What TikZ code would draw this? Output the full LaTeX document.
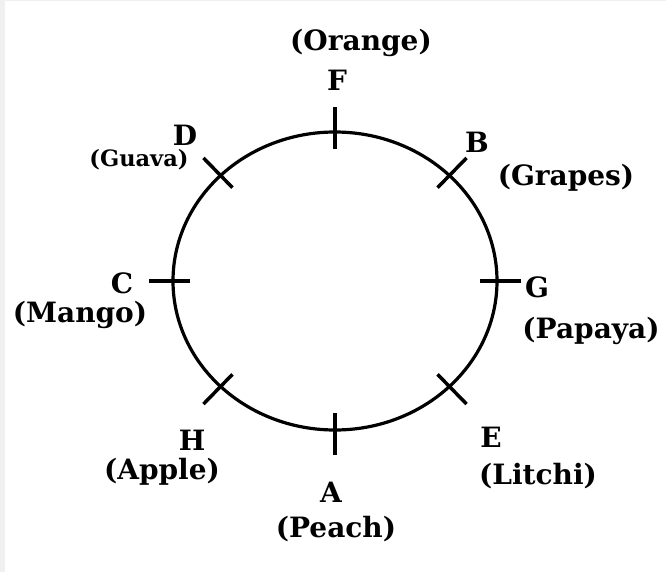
\documentclass[tikz,border=0pt]{standalone}
\usepackage{fontspec}
\setmainfont{DejaVu Serif}
\usetikzlibrary{calc}
\begin{document}
\begin{tikzpicture}[x=1pt,y=-1pt,
    seat/.style={font=\fontsize{28}{30}\selectfont\bfseries,inner sep=0pt},
    fruit/.style={font=\fontsize{28}{30}\selectfont\bfseries,inner sep=0pt},
    smallfruit/.style={font=\fontsize{22.5}{24}\selectfont\bfseries,inner sep=0pt},
    tickmark/.style={line width=3.5pt}]
  \useasboundingbox (0,0) rectangle (666,572);
  \fill[gray!12] (0,0) rectangle (5,572);
  \fill[gray!12] (0,0) rectangle (666,1.5);
  % table
  \coordinate (c) at (335,281);
  \draw[line width=3.2pt] (c) ellipse [x radius=162pt, y radius=149pt];
  \foreach \n/\a in {F/90,B/45,G/0,E/-45,A/-90,H/-135,C/180,D/135}{
    \coordinate (in\n) at ($(c)+(\a:145pt and 132pt)$);
    \coordinate (out\n) at ($(c)+(\a:186pt and 174pt)$);
    \draw[tickmark] (in\n) -- (out\n);
  }
  % persons
  \node[seat] (sF) at (337,80) {F};
  \node[fruit] (fF) at (361,43) {(Orange)};
  \node[seat] (sB) at (477,142) {B};
  \node[fruit] (fB) at (566,178) {(Grapes)};
  \node[seat] (sG) at (537,287) {G};
  \node[fruit] (fG) at (591,331) {(Papaya)};
  \node[seat] (sE) at (491,437) {E};
  \node[fruit] (fE) at (538,476) {(Litchi)};
  \node[seat] (sA) at (331,492) {A};
  \node[fruit] (fA) at (336,529) {(Peach)};
  \node[seat] (sH) at (192,440) {H};
  \node[fruit] (fH) at (162,472) {(Apple)};
  \node[seat] (sC) at (122,283) {C};
  \node[fruit] (fC) at (80,315) {(Mango)};
  \node[seat] (sD) at (185,135) {D};
  \node[smallfruit] (fD) at (139,160) {(Guava)};
\end{tikzpicture}
\end{document}
